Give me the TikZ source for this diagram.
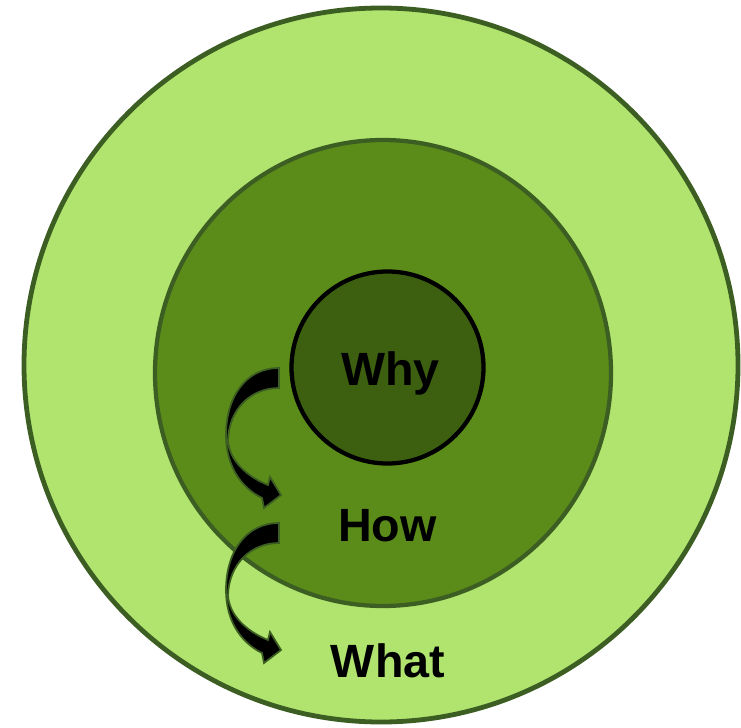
\documentclass[tikz,border=0pt]{standalone}
\usepackage{fontspec}
\setmainfont{Liberation Sans}
\definecolor{outerfill}{HTML}{B0E46E}
\definecolor{midfill}{HTML}{5B8C1A}
\definecolor{innerfill}{HTML}{3D6010}
\definecolor{rimgreen}{HTML}{3C5E22}
\tikzset{
  ring/.style={draw=rimgreen, line width=3.6pt},
  label/.style={font=\fontsize{35}{40}\selectfont\bfseries, text=black, inner sep=0pt, anchor=base},
  curvearrow/.style={fill=black, draw=rimgreen, line width=1.3pt, line join=miter}
}
\newcommand{\curvedarrowpath}{(279,368) .. controls (245,368) and (226,398) .. (226,435)
  .. controls (226,465) and (240,487) .. (262,498) -- (264,508) -- (281,495) -- (270,477) -- (268,485)
  .. controls (246,476) and (229,460) .. (228,440) .. controls (229,410) and (250,388) .. (279,388) -- cycle}
\begin{document}
\begin{tikzpicture}[x=0.75pt, y=-0.75pt]
\useasboundingbox (0,0) rectangle (741,727);
\fill[white] (0,0) rectangle (741,727);
% outer circle
\draw[ring, fill=outerfill] (381,365) circle (357);
% middle circle
\draw[ring, line width=3.2pt, fill=midfill] (383,373) ellipse [x radius=228, y radius=233];
% inner circle
\draw[draw=black, line width=3.2pt, fill=innerfill] (387.5,367.5) circle (96);
% arrows
\draw[curvearrow] \curvedarrowpath;
\begin{scope}[shift={(0,155)}]
\draw[curvearrow] \curvedarrowpath;
\end{scope}
% labels
\node[label] (why) at (390.5,385) {Why};
\node[label] (how) at (387.5,541) {How};
\node[label] (what) at (388,677) {What};
\end{tikzpicture}
\end{document}
